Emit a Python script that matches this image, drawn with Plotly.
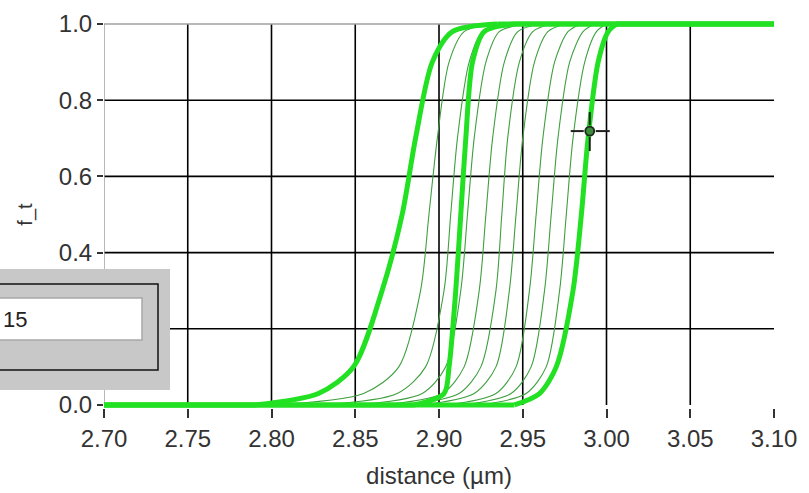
import plotly.graph_objects as go

# ---- data ----
# y levels at which each curve's x position was read
levels = [0.0, 0.03, 0.1, 0.3, 0.5, 0.7, 0.9, 0.98, 1.0]

thick1_x = [2.790, 2.828, 2.849, 2.866, 2.878, 2.886, 2.896, 2.908, 2.935]
thick2_x = [2.885, 2.903, 2.906, 2.910, 2.913, 2.916, 2.920, 2.927, 2.945]
thick3_x = [2.945, 2.960, 2.970, 2.980, 2.985, 2.989, 2.995, 3.001, 3.006]

thin_x = [
    [2.800, 2.855, 2.876, 2.889, 2.894, 2.899, 2.906, 2.915, 2.935],
    [2.830, 2.875, 2.892, 2.903, 2.907, 2.911, 2.918, 2.926, 2.945],
    [2.850, 2.890, 2.904, 2.913, 2.917, 2.921, 2.928, 2.936, 2.952],
    [2.865, 2.902, 2.915, 2.924, 2.928, 2.932, 2.939, 2.947, 2.960],
    [2.880, 2.912, 2.925, 2.934, 2.9375, 2.941, 2.948, 2.956, 2.967],
    [2.890, 2.921, 2.934, 2.942, 2.946, 2.950, 2.957, 2.965, 2.975],
    [2.905, 2.934, 2.946, 2.954, 2.958, 2.962, 2.969, 2.977, 2.985],
    [2.915, 2.943, 2.955, 2.963, 2.967, 2.971, 2.978, 2.986, 2.993],
    [2.925, 2.952, 2.964, 2.972, 2.976, 2.980, 2.987, 2.994, 3.000],
]

x_start, x_end = 2.70, 3.10
x_ticks = [2.70, 2.75, 2.80, 2.85, 2.90, 2.95, 3.00, 3.05, 3.10]
x_ticklabels = ["2.70", "2.75", "2.80", "2.85", "2.90", "2.95", "3.00", "3.05", "3.10"]
y_ticks = [0.0, 0.2, 0.4, 0.6, 0.8, 1.0]
y_ticklabels = ["0.0", "0.2", "0.4", "0.6", "0.8", "1.0"]

cursor_x, cursor_y = 2.990, 0.719
box_value = "15"

# ---- figure ----
W, H = 809, 493
Y_PAD = 0.008                      # small pad so thick lines at 0 and 1 are not clipped
Y0_PX, Y1_PX = 405, 24             # pixel rows of y=0 and y=1
PPY = (Y0_PX - Y1_PX)              # pixels per unit y
L, R = 104, 35
T = round(Y1_PX - Y_PAD * PPY)
B = round(H - (Y0_PX + Y_PAD * PPY))
PW, PH = W - L - R, H - T - B


def pxx(p):
    return (p - L) / PW


def pxy(p):
    return (T + PH - p) / PH


fig = go.Figure()

THIN = "#3f9f3f"
THICK = "#22e022"


def add_curve(xs, color, width):
    # flat parts (linear) at 0 and 1
    fig.add_trace(go.Scatter(x=[x_start, xs[0], None, xs[-1], x_end],
                             y=[0.0, 0.0, None, 1.0, 1.0], mode="lines",
                             line=dict(color=color, width=width), hoverinfo="skip"))
    # rising part (smoothed)
    fig.add_trace(go.Scatter(x=xs, y=levels, mode="lines",
                             line=dict(color=color, width=width, shape="spline", smoothing=0.8),
                             hoverinfo="skip"))


for xs in thin_x:
    add_curve(xs, THIN, 1.1)
for xs in (thick1_x, thick2_x, thick3_x):
    add_curve(xs, THICK, 5)

# cursor circle
fig.add_trace(go.Scatter(x=[cursor_x], y=[cursor_y], mode="markers",
                         marker=dict(symbol="circle", size=9, color="#3c8c3c",
                                     line=dict(color="#1a2a1a", width=1.8)),
                         hoverinfo="skip"))

shapes = []
# grid lines (inner ticks only; no line at the right edge)
for xv in x_ticks[1:-1]:
    shapes.append(dict(type="line", xref="x", yref="y", x0=xv, x1=xv, y0=0, y1=1,
                       line=dict(color="#000000", width=1.6), layer="below"))
for yv in y_ticks[1:-1]:
    shapes.append(dict(type="line", xref="x", yref="y", x0=x_start, x1=x_end, y0=yv, y1=yv,
                       line=dict(color="#000000", width=1.6), layer="below"))
# borders (left and top)
shapes.append(dict(type="line", xref="x", yref="y", x0=x_start, x1=x_start, y0=0, y1=1,
                   line=dict(color="#a0a0a0", width=1.5), layer="below"))
shapes.append(dict(type="line", xref="x", yref="y", x0=x_start, x1=x_end, y0=1, y1=1,
                   line=dict(color="#a0a0a0", width=1.5), layer="below"))

# cursor cross arms
dxp = (x_end - x_start) / PW
dyp = (1.0 + 2 * Y_PAD) / PH
for a, b in ((-19, -6), (6, 20)):
    shapes.append(dict(type="line", xref="x", yref="y",
                       x0=cursor_x + a * dxp, x1=cursor_x + b * dxp, y0=cursor_y, y1=cursor_y,
                       line=dict(color="#202020", width=2)))
    shapes.append(dict(type="line", xref="x", yref="y",
                       x0=cursor_x, x1=cursor_x, y0=cursor_y - a * dyp, y1=cursor_y - b * dyp,
                       line=dict(color="#202020", width=2)))

# gray control box overlay
shapes.append(dict(type="rect", xref="paper", yref="paper",
                   x0=pxx(-10), x1=pxx(170), y0=pxy(390), y1=pxy(269),
                   fillcolor="#c8c8c8", line=dict(width=0), layer="above"))
shapes.append(dict(type="rect", xref="paper", yref="paper",
                   x0=pxx(-10), x1=pxx(158), y0=pxy(370), y1=pxy(284),
                   fillcolor="rgba(0,0,0,0)", line=dict(color="#111111", width=1.5), layer="above"))
shapes.append(dict(type="rect", xref="paper", yref="paper",
                   x0=pxx(-10), x1=pxx(142), y0=pxy(340), y1=pxy(298),
                   fillcolor="#ffffff", line=dict(color="#a8a8a8", width=1.5), layer="above"))

fig.update_layout(
    width=W, height=H,
    margin=dict(l=L, r=R, t=T, b=B),
    paper_bgcolor="white", plot_bgcolor="white",
    showlegend=False,
    font=dict(family="Liberation Sans, Arial", color="#333333", size=24),
    shapes=shapes,
    annotations=[dict(text=box_value, xref="paper", yref="paper",
                      x=pxx(1), y=pxy(319), xanchor="left", yanchor="middle",
                      showarrow=False, font=dict(size=22, color="#222222"))],
    xaxis=dict(range=[x_start, x_end], tickvals=x_ticks, ticktext=x_ticklabels,
               showgrid=False, zeroline=False, showline=False, automargin=False,
               ticks="outside", ticklen=9, tickcolor="#333333", tickwidth=1.5,
               title=dict(text="distance (µm)", standoff=16, font=dict(size=24))),
    yaxis=dict(range=[-Y_PAD, 1.0 + Y_PAD], tickvals=y_ticks, ticktext=y_ticklabels,
               showgrid=False, zeroline=False, showline=False, automargin=False,
               ticks="outside", ticklen=6, tickcolor="#333333", tickwidth=1.5,
               title=dict(text="f_t", standoff=20, font=dict(size=20))),
)

fig.write_html("out.html")
